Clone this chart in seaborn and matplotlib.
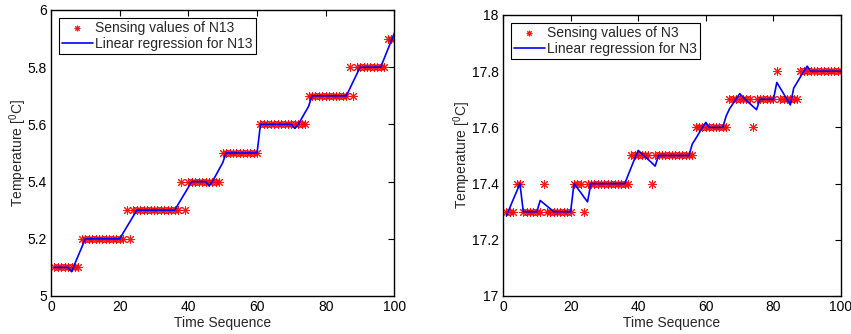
import matplotlib
matplotlib.use("Agg")
import matplotlib.pyplot as plt
import seaborn as sns
import numpy as np

# time axis, one sample per step
time_seq = list(range(1, 101))

# N13 sensing values, written as runs (value, count)
n13_runs = [(5.1, 8), (5.2, 13), (5.3, 1), (5.2, 1), (5.3, 14), (5.4, 1), (5.3, 1),
            (5.4, 10), (5.5, 11), (5.6, 14), (5.7, 12), (5.8, 1), (5.7, 1),
            (5.8, 9), (5.9, 3)]
n13_sensed = [v for v, n in n13_runs for _ in range(n)]

# N13 regression output, one per time step
n13_fit = ([5.1] * 5 + [5.085, 5.114, 5.143, 5.171] + [5.2] * 11 +
           [5.22, 5.24, 5.26, 5.28] + [5.3] * 12 + [5.32, 5.34, 5.36, 5.38] +
           [5.4] * 5 + [5.385, 5.4, 5.422, 5.444, 5.466] + [5.5] * 10 +
           [5.6] * 10 + [5.586, 5.6, 5.621, 5.642, 5.663] + [5.7] * 11 +
           [5.725, 5.75, 5.775] + [5.8] * 7 + [5.83, 5.86, 5.89, 5.92])

# N3 sensing values
n3_runs = [(17.3, 3), (17.4, 2), (17.3, 6), (17.4, 1), (17.3, 8), (17.4, 3),
           (17.3, 1), (17.4, 13), (17.5, 6), (17.4, 1), (17.5, 12), (17.6, 10),
           (17.7, 7), (17.6, 1), (17.7, 6), (17.8, 1), (17.7, 6), (17.8, 13)]
n3_sensed = [v for v, n in n3_runs for _ in range(n)]

# N3 regression output
n3_fit = ([17.285, 17.314, 17.343, 17.371, 17.4] + [17.3] * 5 +
          [17.34, 17.33, 17.32, 17.31] + [17.3] * 6 +
          [17.4, 17.384, 17.368, 17.351, 17.335] + [17.4] * 11 +
          [17.43, 17.46, 17.49, 17.518, 17.507, 17.496, 17.485, 17.474, 17.462] +
          [17.5] * 10 + [17.541, 17.56, 17.58, 17.6, 17.618] + [17.6] * 5 +
          [17.64, 17.666, 17.684, 17.702, 17.72, 17.708, 17.696, 17.685,
           17.674, 17.663] + [17.7] * 5 +
          [17.76, 17.74, 17.72, 17.70, 17.68, 17.74, 17.76, 17.78, 17.80, 17.818] +
          [17.8] * 10)

x_ticks = [0, 20, 40, 60, 80, 100]
n13_yticks = [5, 5.2, 5.4, 5.6, 5.8, 6]
n13_ylabels = ["5", "5.2", "5.4", "5.6", "5.8", "6"]
n3_yticks = [17, 17.2, 17.4, 17.6, 17.8, 18]
n3_ylabels = ["17", "17.2", "17.4", "17.6", "17.8", "18"]

sns.set_theme(style="white")
plt.rcParams["font.family"] = ["Liberation Sans", "DejaVu Sans"]
plt.rcParams["mathtext.default"] = "regular"

fig = plt.figure(figsize=(8.51, 3.34), dpi=100)
ax1 = fig.add_axes([0.0599, 0.1138, 0.4036, 0.8563])
ax2 = fig.add_axes([0.5911, 0.1138, 0.3972, 0.8413])

panels = [
    (ax1, n13_sensed, n13_fit, "N13", n13_yticks, n13_ylabels),
    (ax2, n3_sensed, n3_fit, "N3", n3_yticks, n3_ylabels),
]

for ax, sensed, fit, node, yt, yl in panels:
    sns.scatterplot(x=time_seq, y=sensed, ax=ax, marker=(8, 2, 0), color="red",
                    edgecolor="red", s=34, linewidth=0.75, alpha=0.9,
                    label=f"Sensing values of {node}", zorder=2)
    sns.lineplot(x=time_seq, y=fit, ax=ax, color="blue", linewidth=1.2,
                 label=f"Linear regression for {node}", zorder=3)
    ax.set_xlim(0, 100)
    ax.set_ylim(yt[0], yt[-1])
    ax.set_xticks(x_ticks)
    ax.set_xticklabels([str(t) for t in x_ticks])
    ax.set_yticks(yt)
    ax.set_yticklabels(yl)
    ax.tick_params(direction="in", length=4, width=0.8, top=True, right=True,
                   labelsize=10, pad=3, colors="black")
    for sp in ax.spines.values():
        sp.set_color("black")
        sp.set_linewidth(1.0)
    ax.set_xlabel("Time Sequence", fontsize=10, labelpad=1)
    ax.set_ylabel(r"Temperature [$^{0}$C]", fontsize=10, labelpad=-1)
    leg = ax.legend(loc="upper left", fontsize=10, frameon=True, fancybox=False,
                    borderpad=0.2, handlelength=2.2, handletextpad=0.2,
                    labelspacing=0.15, borderaxespad=0.6, markerscale=0.6)
    leg.get_frame().set_edgecolor("black")
    leg.get_frame().set_linewidth(0.8)
    leg.get_frame().set_alpha(1)

fig.savefig("out.png", dpi=100)
